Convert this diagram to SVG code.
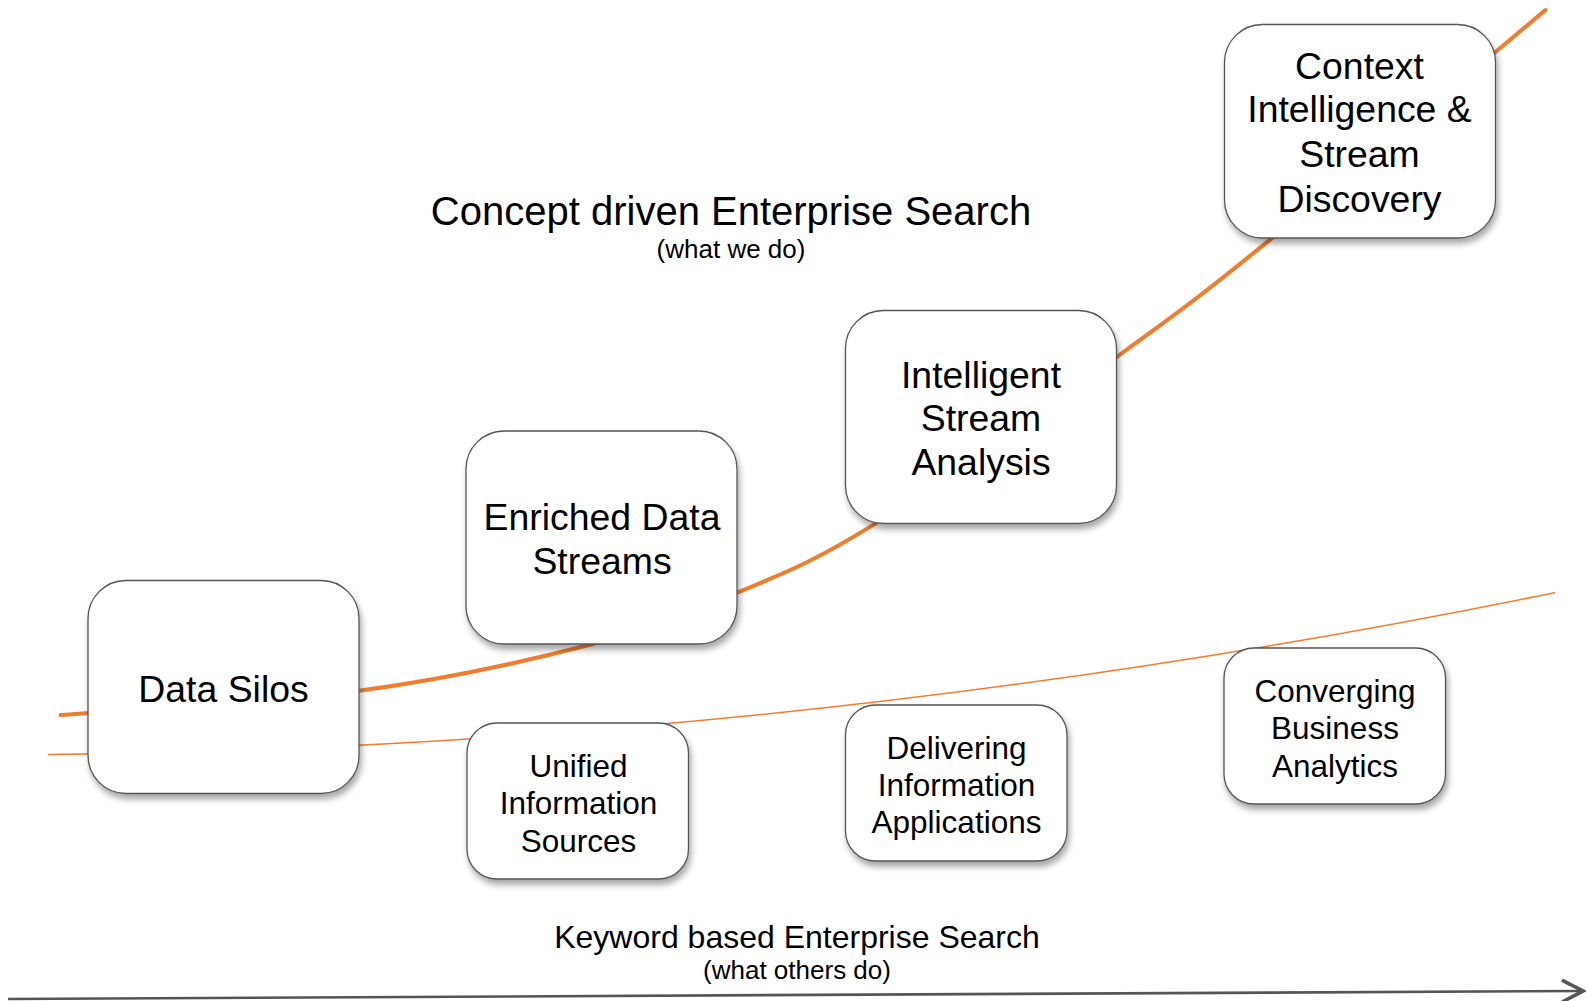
<svg xmlns="http://www.w3.org/2000/svg" width="1586" height="1001" viewBox="0 0 1586 1001">
<style>
.box{fill:#fff;stroke:#555;stroke-width:1.3;filter:url(#sh)}
.t{font-family:"Liberation Sans",Arial,sans-serif;fill:#000;text-anchor:middle}
.big{font-size:37.4px}
.small{font-size:31.5px}
.curve{fill:none;stroke:#F07E2E;stroke-linecap:round}
</style>
<defs>
<filter id="sh" x="-10%" y="-10%" width="125%" height="130%">
<feDropShadow dx="2" dy="5" stdDeviation="3" flood-color="#000" flood-opacity="0.35"/>
</filter>
<marker id="arr" markerWidth="26" markerHeight="26" refX="23" refY="13" orient="auto" markerUnits="userSpaceOnUse">
<path d="M2,2 L23,13 L2,24" fill="none" stroke="#555" stroke-width="3.5"/>
</marker>
</defs>
<g id="connectors">
<g transform="scale(1.0114)">
<path class="curve" stroke-width="4" d="M60,707 C109,703 267.5,694.7 355,683 C442.5,671.3 522.7,653.2 585,637 C647.3,620.8 682.3,605.8 729,586 C775.7,566.2 802.5,556.8 865,518 C927.5,479.2 1038.7,400 1104,353 C1169.3,306 1186.3,293.2 1257,236 C1327.7,178.8 1482.8,47.7 1528,10"/>
<path class="curve" stroke-width="1.5" d="M48,746 Q792.5,738.7 1537,586"/>
</g>
<line x1="8" y1="999" x2="1583" y2="991" stroke="#555" stroke-width="2.6" marker-end="url(#arr)"/>
</g>
<g id="title-top">
<text class="t" x="731" y="224.5" font-size="40">Concept driven Enterprise Search</text>
<text class="t" x="731" y="258" font-size="26">(what we do)</text>
</g>
<g id="title-bottom">
<text class="t" x="797" y="947.5" font-size="32">Keyword based Enterprise Search</text>
<text class="t" x="797" y="979" font-size="26">(what others do)</text>
</g>
<g id="data-silos">
<rect class="box" x="88" y="580.5" width="271" height="213" rx="38"/>
<text class="t big" x="223.5" y="702">Data Silos</text>
</g>
<g id="enriched-data-streams">
<rect class="box" x="466" y="431" width="271" height="213" rx="38"/>
<text class="t big" x="602" y="530">Enriched Data</text>
<text class="t big" x="602" y="573.5">Streams</text>
</g>
<g id="intelligent-stream-analysis">
<rect class="box" x="845.5" y="310.5" width="271" height="213" rx="38"/>
<text class="t big" x="981" y="388.4">Intelligent</text>
<text class="t big" x="981" y="431">Stream</text>
<text class="t big" x="981" y="475.4">Analysis</text>
</g>
<g id="context-intelligence">
<rect class="box" x="1224.5" y="24.5" width="271" height="213.5" rx="38"/>
<text class="t big" x="1359.5" y="79">Context</text>
<text class="t big" x="1359.5" y="122.4">Intelligence &amp;</text>
<text class="t big" x="1359.5" y="167">Stream</text>
<text class="t big" x="1359.5" y="212.4">Discovery</text>
</g>
<g id="unified-information-sources">
<rect class="box" x="467" y="723" width="221.5" height="156" rx="30"/>
<text class="t small" x="578.5" y="776.8">Unified</text>
<text class="t small" x="578.5" y="814.2">Information</text>
<text class="t small" x="578.5" y="851.6">Sources</text>
</g>
<g id="delivering-information-applications">
<rect class="box" x="845.5" y="705" width="221.5" height="156" rx="30"/>
<text class="t small" x="956.5" y="758.5">Delivering</text>
<text class="t small" x="956.5" y="796">Information</text>
<text class="t small" x="956.5" y="833.4">Applications</text>
</g>
<g id="converging-business-analytics">
<rect class="box" x="1224" y="648" width="221.5" height="156" rx="30"/>
<text class="t small" x="1335" y="702">Converging</text>
<text class="t small" x="1335" y="739.3">Business</text>
<text class="t small" x="1335" y="776.8">Analytics</text>
</g>
</svg>
